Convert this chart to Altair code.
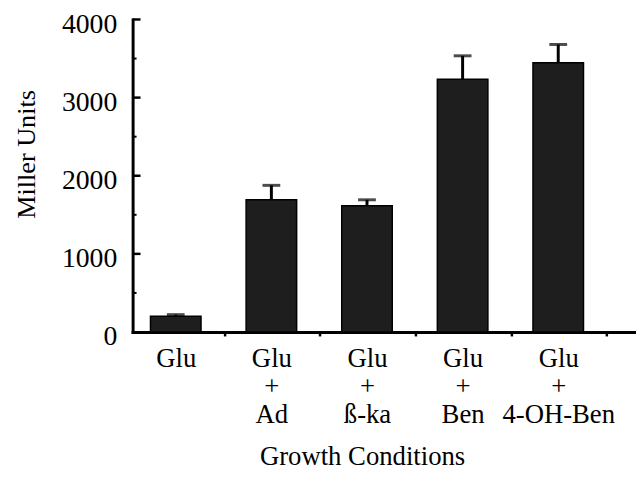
import altair as alt
import pandas as pd

# ---- data ----
conditions = ["Glu", "Ad", "ß-ka", "Ben", "4-OH-Ben"]
miller_units = [203, 1692, 1616, 3236, 3447]
upper_error = [19, 185, 76, 299, 233]
y_major_ticks = [1000, 2000, 3000, 4000]
y_minor_ticks = [500, 1500, 2500, 3500]
y_label_values = [0, 1000, 2000, 3000, 4000]
base_label = "Glu"

df = pd.DataFrame({
    "cond": conditions,
    "value": miller_units,
    "top": [v + e for v, e in zip(miller_units, upper_error)],
})
major_df = pd.DataFrame({"t": y_major_ticks})
minor_df = pd.DataFrame({"t": y_minor_ticks})

FONT = "Liberation Serif"

x_enc = alt.X(
    "cond:N",
    sort=conditions,
    scale=alt.Scale(domain=conditions, paddingInner=0.4715,
                    paddingOuter=0.368, align=0.254),
    axis=alt.Axis(
        title="Growth Conditions",
        titleFont=FONT, titleFontSize=27, titleFontWeight="normal",
        titleColor="black", titleX=232, titleY=134,
        titleAlign="center", titleBaseline="alphabetic",
        labelFont=FONT, labelFontSize=27, labelFontWeight="normal",
        labelColor="black",
        labelAngle=0, labelLineHeight=28.5, labelBaseline="top",
        labelPadding=10,
        labelExpr=f"datum.label == '{base_label}' ? ['{base_label}'] : ['{base_label}', '+', datum.label]",
        tickOffset=49, labelOffset=-49,
        ticks=True, tickSize=4, tickWidth=2.5, tickColor="black",
        domainColor="black", domainWidth=3, domainCap="square",
        grid=False,
    ),
)

y_scale = alt.Scale(domain=[0, 4000], nice=False)
y_axis = alt.Axis(
    title="Miller Units",
    titleFont=FONT, titleFontSize=26.5, titleFontWeight="normal",
    titleColor="black", titleX=-99, titleY=136,
    titleAlign="center", titleBaseline="alphabetic",
    values=y_label_values, format="d",
    labelFont=FONT, labelFontSize=28, labelFontWeight="normal",
    labelColor="black",
    labelPadding=16, labelOffset=5,
    ticks=False, tickSize=0,
    domainColor="black", domainWidth=3, domainCap="square",
    grid=False,
)

bars = alt.Chart(df).mark_bar(
    fill="#1e1e1e", stroke="black", strokeWidth=1.5
).encode(
    x=x_enc,
    y=alt.Y("value:Q", scale=y_scale, axis=y_axis),
)

stems = alt.Chart(df).mark_rule(color="black", strokeWidth=3).encode(
    x=x_enc,
    y=alt.Y("value:Q", scale=y_scale, axis=y_axis),
    y2="top:Q",
)

caps = alt.Chart(df).mark_tick(color="black", size=18, thickness=3).encode(
    x=x_enc,
    y=alt.Y("top:Q", scale=y_scale, axis=y_axis),
)

major = alt.Chart(major_df).mark_rule(color="black", strokeWidth=2.5).encode(
    x=alt.value(0), x2=alt.value(8),
    y=alt.Y("t:Q", scale=y_scale, axis=y_axis),
)

minor = alt.Chart(minor_df).mark_rule(color="black", strokeWidth=2).encode(
    x=alt.value(0), x2=alt.value(4),
    y=alt.Y("t:Q", scale=y_scale, axis=y_axis),
)

chart = alt.layer(bars, stems, caps, major, minor).properties(
    width=509,
    height=316,
    autosize=alt.AutoSizeParams(type="none"),
    padding={"left": 126, "top": 9, "right": 0, "bottom": 143},
    background="white",
).configure_view(stroke=None)

chart.save("out.html", embed_options={"renderer": "svg", "actions": False})
